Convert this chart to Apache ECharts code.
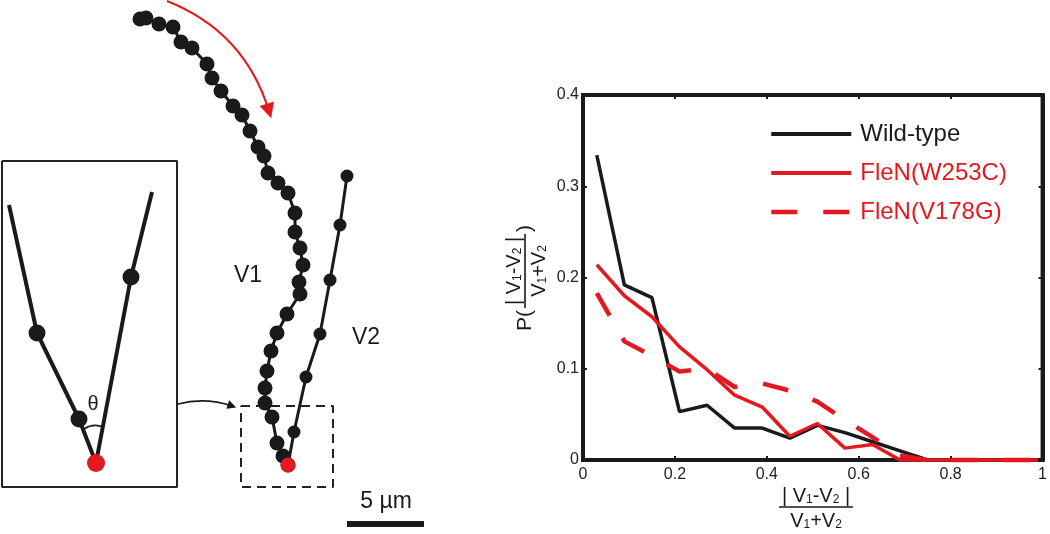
<!DOCTYPE html>
<html><head><meta charset="utf-8">
<script src="https://cdn.jsdelivr.net/npm/echarts@6/dist/echarts.min.js"></script>
<style>html,body{margin:0;padding:0;background:#fff}#c{width:1050px;height:534px}</style>
</head><body><div id="c"></div>
<script>
// ---------- chart data (right panel) ----------
const binCenters = [0.03,0.09,0.15,0.21,0.27,0.33,0.39,0.45,0.51,0.57,0.63,0.69,0.75,0.81,0.87,0.93,0.99];
const wildType   = [0.334,0.192,0.178,0.053,0.060,0.035,0.035,0.024,0.038,0.030,0.020,0.010,0,0,0,0,0];
const w253c      = [0.214,0.180,0.157,0.124,0.099,0.071,0.058,0.026,0.040,0.013,0.017,0,0,0,0,0,0];
const v178g      = [0.183,0.130,0.114,0.097,0.100,0.080,0.084,0.076,0.064,0.044,0.025,0.005,0,0,0,0,0];
const seriesNames = ['Wild-type','FleN(W253C)','FleN(V178G)'];
const xTickLabels = ['0','0.2','0.4','0.6','0.8','1'];
const yTickLabels = ['0','0.1','0.2','0.3','0.4'];

// ---------- diagram data (left panel, diagram units) ----------
const v1Track = [[140,19],[146,18],[159,24],[173,27],[181,42],[192,48],[207,64],[212,78],[221,91],[233,106],[242,115],[250,131],[258,147],[264,156],[268,173],[278,183],[288,193],[295,213],[295,232],[300,248],[303,265],[299,282],[300,294],[287,314],[277,333],[271,351],[267,371],[265,388],[265,403],[272,417],[277,443],[283,456],[288,465]];
const v2Track = [[347,176],[340,225],[330,280],[320,334],[306,377],[294,432],[288,465]];
const insetLeft = [[9,205],[37,333],[79,419],[96,463]];
const insetRight = [[152,192],[131,277],[96,463]];
const tipPoint = [[288,465]];
const insetTip = [[96,463]];
const insetBox = [[2,161],[177,161],[177,487],[2,487],[2,161]];
const zoomBox = [[241,406],[333,406],[333,487],[241,487],[241,406]];
const scaleBar = [[347,524],[424,524]];
const redArrow = [[167,1],[269,111]];
const linkArrow = [[178,404],[232,406]];
const thetaArc = [[84,429],[103,427]];

const F = "'Liberation Sans', Arial, Helvetica, sans-serif";
const RED = '#e5171f', BLACK = '#1a1a1a';

const chart = echarts.init(document.getElementById('c'), null, {renderer:'canvas'});

function frameAxis(gridIndex, pos, isX, showLabel, labels, interval, max) {
  return {
    gridIndex, type:'value', min:0, max, interval, position:pos,
    axisLine:{show:true, onZero:false, lineStyle:{color:BLACK, width:4}},
    axisTick:{show:true, inside:true, length:4, lineStyle:{color:BLACK, width:2}},
    splitLine:{show:false},
    axisLabel:{show:showLabel, margin: isX ? 7 : 4, fontSize:16, fontFamily:F, color:'#222',
      formatter: v => labels[Math.round(v/interval)]}
  };
}

const diagLine = (data, width, extra) => Object.assign({
  type:'line', xAxisIndex:2, yAxisIndex:2, data, symbol:'none', clip:false, silent:true,
  lineStyle:{color:BLACK, width}, itemStyle:{color:BLACK, opacity:1}, z:3
}, extra||{});

const rich = (size) => ({
  n:{fontSize:size, fontFamily:F, fill:BLACK, lineHeight:size+2, verticalAlign:'bottom'},
  s:{fontSize:Math.round(size*0.6), fontFamily:F, fill:BLACK, lineHeight:Math.round(size*0.4), verticalAlign:'bottom'}
});
function fraction(size, w) {
  return [
    {type:'text', x:0, y:-1, style:{text:'{n|| V}{s|1}{n|-V}{s|2}{n| |}', rich:rich(size), align:'center', verticalAlign:'bottom'}},
    {type:'line', shape:{x1:-w/2, y1:0, x2:w/2, y2:0}, style:{stroke:BLACK, lineWidth:1.6}},
    {type:'text', x:0, y:2, style:{text:'{n|V}{s|1}{n|+V}{s|2}', rich:rich(size), align:'center', verticalAlign:'top'}}
  ];
}

const option = {
  animation:false,
  backgroundColor:'#fff',
  grid:[
    {left:583, top:95, width:462, height:365, show:true, borderColor:BLACK, borderWidth:4, backgroundColor:'transparent'},
    {left:0, top:0, width:450, height:534, show:false}
  ],
  xAxis:[
    frameAxis(0,'bottom',true,true,xTickLabels,0.2,1),
    frameAxis(0,'top',true,false,xTickLabels,0.2,1),
    {gridIndex:1, type:'value', min:0, max:450, show:false}
  ],
  yAxis:[
    frameAxis(0,'left',false,true,yTickLabels,0.1,0.4),
    frameAxis(0,'right',false,false,yTickLabels,0.1,0.4),
    {gridIndex:1, type:'value', min:0, max:534, inverse:true, show:false}
  ],
  legend:{
    orient:'vertical', left:769, top:122, padding:0, itemWidth:80, itemHeight:26, itemGap:15,
    selectedMode:false,
    itemStyle:{opacity:0},
    textStyle:{fontSize:24, fontFamily:F, padding:[0,0,0,4]},
    data:[
      {name:seriesNames[0], textStyle:{color:BLACK}, lineStyle:{width:4}},
      {name:seriesNames[1], textStyle:{color:RED}, lineStyle:{width:4}},
      {name:seriesNames[2], textStyle:{color:RED}, lineStyle:{width:4.5, type:[26,26]}}
    ]
  },
  series:[
    {type:'line', name:seriesNames[0], data:binCenters.map((x,i)=>[x,wildType[i]]), symbol:'none', clip:false,
     lineStyle:{color:BLACK, width:3.5}, itemStyle:{color:BLACK}, z:3},
    {type:'line', name:seriesNames[1], data:binCenters.map((x,i)=>[x,w253c[i]]), symbol:'none', clip:false,
     lineStyle:{color:RED, width:3.5}, itemStyle:{color:RED}, z:4},
    {type:'line', name:seriesNames[2], data:binCenters.map((x,i)=>[x,v178g[i]]), symbol:'none', clip:false,
     lineStyle:{color:RED, width:4.5, type:[26,26]}, itemStyle:{color:RED}, z:5},

    diagLine(insetBox, 2, {lineStyle:{color:'#222', width:2}}),
    diagLine(zoomBox, 2, {lineStyle:{color:'#222', width:2, type:[9,6]}}),
    diagLine(insetLeft.map((p,i)=>({value:p, symbol:(i===1||i===2)?'circle':'none'})), 4, {symbol:'circle', symbolSize:17, showSymbol:true}),
    diagLine(insetRight.map((p,i)=>({value:p, symbol:(i===1)?'circle':'none'})), 4, {symbol:'circle', symbolSize:17, showSymbol:true}),
    diagLine(v1Track, 3, {symbol:'circle', symbolSize:15, showSymbol:true}),
    diagLine(v2Track, 3, {symbol:'circle', symbolSize:13, showSymbol:true}),
    {type:'scatter', xAxisIndex:2, yAxisIndex:2, data:tipPoint, symbolSize:15, itemStyle:{color:RED, opacity:1}, z:6, silent:true},
    {type:'scatter', xAxisIndex:2, yAxisIndex:2, data:insetTip, symbolSize:18, itemStyle:{color:RED, opacity:1}, z:6, silent:true},
    diagLine(scaleBar, 6),
    {type:'lines', coordinateSystem:'cartesian2d', xAxisIndex:2, yAxisIndex:2, silent:true, z:4,
     symbol:['none','triangle'], symbolSize:15,
     lineStyle:{color:RED, width:2, curveness:0.24, opacity:1},
     data:[{coords:redArrow}]},
    {type:'lines', coordinateSystem:'cartesian2d', xAxisIndex:2, yAxisIndex:2, silent:true, z:4,
     symbol:['none','triangle'], symbolSize:9,
     lineStyle:{color:BLACK, width:1.6, curveness:0.15, opacity:1},
     data:[{coords:linkArrow}]},
    {type:'lines', coordinateSystem:'cartesian2d', xAxisIndex:2, yAxisIndex:2, silent:true, z:4,
     symbol:['none','none'],
     lineStyle:{color:BLACK, width:1.6, curveness:0.26, opacity:1},
     data:[{coords:thetaArc}]}
  ],
  graphic:[
    {type:'text', x:248, y:276, style:{text:'V1', fontSize:23, fontFamily:F, fill:BLACK, align:'center', verticalAlign:'middle'}},
    {type:'text', x:366, y:338, style:{text:'V2', fontSize:23, fontFamily:F, fill:BLACK, align:'center', verticalAlign:'middle'}},
    {type:'text', x:386, y:502, style:{text:'5 µm', fontSize:23, fontFamily:F, fill:BLACK, align:'center', verticalAlign:'middle'}},
    {type:'text', x:93, y:404, style:{text:'θ', fontSize:20, fontFamily:F, fill:BLACK, align:'center', verticalAlign:'middle'}},
    {type:'group', x:816, y:507, children:fraction(20, 74)},
    {type:'group', x:525, y:271, rotation:Math.PI/2, children:[
      ...fraction(20, 74),
      {type:'text', x:-39, y:0, style:{text:'P(', fontSize:21, fontFamily:F, fill:BLACK, align:'right', verticalAlign:'middle'}},
      {type:'text', x:39, y:0, style:{text:')', fontSize:21, fontFamily:F, fill:BLACK, align:'left', verticalAlign:'middle'}}
    ]}
  ]
};
chart.setOption(option);
</script>
</body></html>
